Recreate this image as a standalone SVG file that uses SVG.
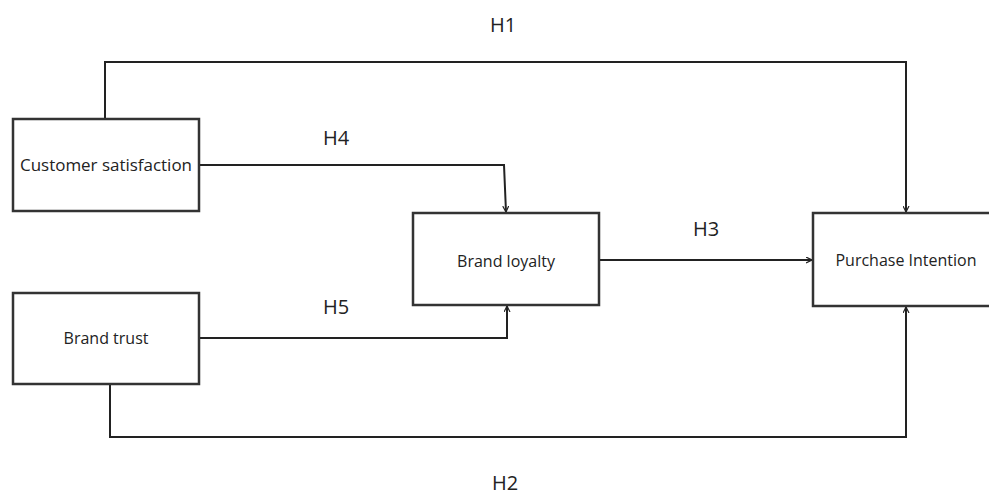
<svg xmlns="http://www.w3.org/2000/svg" width="989" height="495" viewBox="0 0 989 495">
<defs>
<style>
.box{fill:#fff;stroke:#333;stroke-width:2.5}
.lbl{font-family:"Open Sans","Noto Sans",sans-serif;font-size:16px;fill:#222;text-anchor:middle;dominant-baseline:central}
.h{font-family:"Open Sans","Noto Sans",sans-serif;font-size:20px;fill:#222;text-anchor:middle;dominant-baseline:central}
.c{fill:none;stroke:#222;stroke-width:2;marker-end:url(#ah)}
</style>
<marker id="ah" viewBox="0 0 10 10" refX="10" refY="5" markerWidth="6" markerHeight="7" markerUnits="userSpaceOnUse" orient="auto">
<path d="M0,0 L10,5 L0,10" fill="none" stroke="#222" stroke-width="2"/>
</marker>
</defs>
<rect width="989" height="495" fill="#fff"/>
<g id="connectors">
<path class="c" d="M105,119 V62 H906 V212"/>
<path class="c" d="M199,165 H504 L506,212"/>
<path class="c" d="M599,260 H812"/>
<path class="c" d="M199,338 H507 V306"/>
<path class="c" d="M110,384 V437 H906 V307"/>
</g>
<g id="n_cs"><rect class="box" x="13" y="119" width="186" height="92"/><text class="lbl" x="106" y="165" font-size="17" textLength="172" lengthAdjust="spacingAndGlyphs">Customer satisfaction</text></g>
<g id="n_bt"><rect class="box" x="13" y="293" width="186" height="91"/><text class="lbl" x="106" y="338">Brand trust</text></g>
<g id="n_bl"><rect class="box" x="413" y="213" width="186" height="92"/><text class="lbl" x="506" y="261">Brand loyalty</text></g>
<g id="n_pi"><rect class="box" x="813" y="213" width="186" height="93"/><text class="lbl" x="906" y="260">Purchase Intention</text></g>
<g id="labels">
<text class="h" x="503" y="24">H1</text>
<text class="h" x="336" y="137">H4</text>
<text class="h" x="706" y="228">H3</text>
<text class="h" x="336" y="306">H5</text>
<text x="505" y="490" font-family="'Open Sans','Noto Sans',sans-serif" font-size="20" fill="#222" text-anchor="middle">H2</text>
</g>
</svg>
